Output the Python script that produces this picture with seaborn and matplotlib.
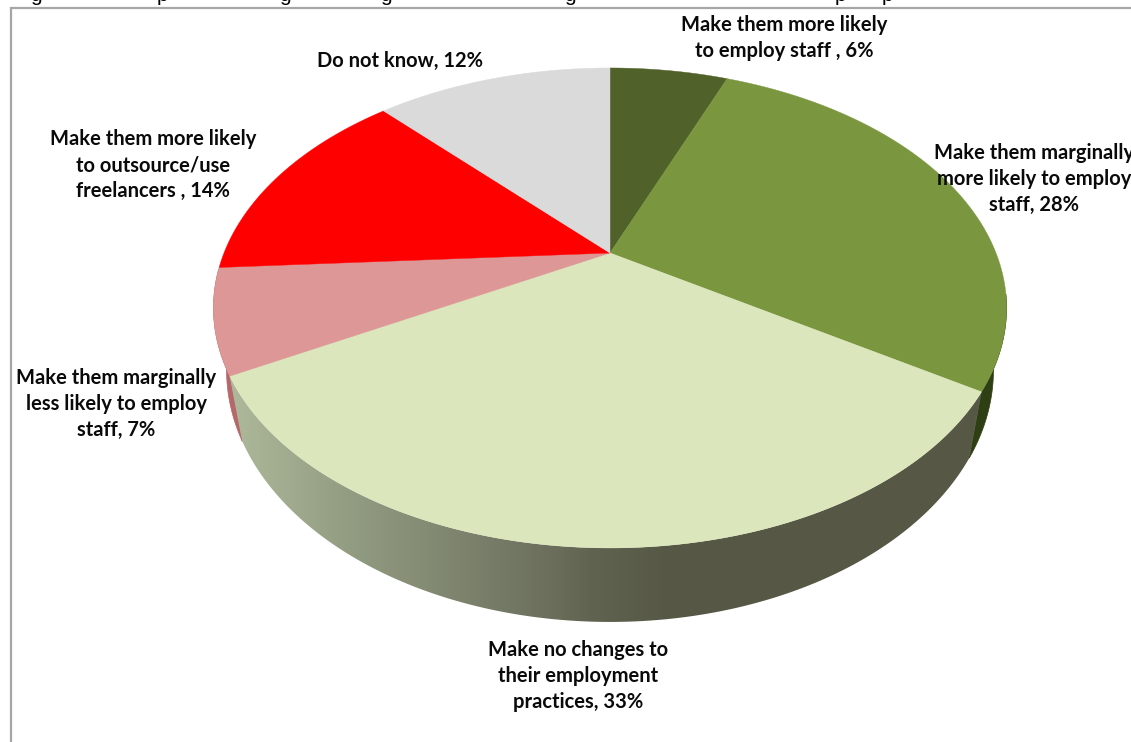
import numpy as np
import matplotlib
matplotlib.use("Agg")
import matplotlib.pyplot as plt
from matplotlib.colors import LinearSegmentedColormap
from matplotlib.patches import Polygon
import seaborn as sns

# Survey shares, clockwise from twelve o'clock
labels = [
    "Make them more likely\nto employ staff , 6%",
    "Make them marginally\nmore likely to employ\nstaff, 28%",
    "Make no changes to\ntheir employment\npractices, 33%",
    "Make them marginally\nless likely to employ\nstaff, 7%",
    "Make them more likely\nto outsource/use\nfreelancers , 14%",
    "Do not know, 12%",
]
shares = [6, 28, 33, 7, 14, 12]
top_colors = ["#50622a", "#7a973f", "#dce6bd", "#dc9796", "#ff0000", "#dadada"]
label_xy = [(784, 38), (1034, 179), (578, 676), (116, 404), (153, 165), (400, 61)]

# Letters of the heading line that hang into the top of the figure
heading_letters = ["g", "p", "g", "g", "g", "p", "p"]
heading_x = [36, 162, 285, 386, 570, 840, 887]

sns.set_theme(style="white")
plt.rcParams["font.family"] = ["Lato", "DejaVu Sans"]

fig, ax = plt.subplots(figsize=(11.31, 7.42), dpi=100)
ax.set_position([0, 0, 1, 1])
ax.axis("off")

# Perspective view of the disc
CX, CY = 610.0, 253.0
RX, RY, TILT = 386.0, 227.4, 0.229
RIM_MID_Y = 308.0


def rim(theta):
    """Upper rim position for clockwise angles measured from the top."""
    u, v = np.sin(theta), np.cos(theta)
    d = 1 + TILT * v
    return CX + RX * u / d, CY - RY * v / d


def lower_rim(theta):
    x, y = rim(theta)
    return CX + 0.967 * (x - CX), 370.0 + 1.05 * (y - RIM_MID_Y)


def wall_outline(a, b):
    t = np.linspace(a, b, 200)
    xt, yt = rim(t)
    xb, yb = lower_rim(t)
    return np.column_stack([np.r_[xt, xb[::-1]], np.r_[yt, yb[::-1]]])


edges = np.cumsum([0] + shares) / sum(shares) * 2 * np.pi

# Outer wall: the two narrow slivers at the sides
for a, b, col in [(np.radians(100), edges[2], "#2f3f14"),
                  (edges[3], np.radians(266), "#b4686a")]:
    ax.add_patch(Polygon(wall_outline(a, b), closed=True, color=col, lw=0.5))

# Outer wall: the front slice, shaded from left to right across x = 230..1000
WALL_LEFT, WALL_RIGHT = 230.0, 1000.0
stops_x = [230, 328, 425, 504, 557, 592, 670, 1000]
stops_c = ["#aeb99b", "#96a186", "#848c74", "#747965",
           "#6a6d5a", "#5f6350", "#565845", "#565845"]
shade = LinearSegmentedColormap.from_list(
    "front_wall",
    [((x - WALL_LEFT) / (WALL_RIGHT - WALL_LEFT), c) for x, c in zip(stops_x, stops_c)],
)
front = Polygon(wall_outline(edges[2], edges[3]), closed=True,
                transform=ax.transData, fc="none", ec="none")
ax.add_patch(front)
img = ax.imshow(np.linspace(0, 1, 1024)[None, :], cmap=shade, aspect="auto",
                extent=(WALL_LEFT, WALL_RIGHT, 742, 0), zorder=1.5)
img.set_clip_path(front)

# Top surface of the pie
palette = sns.color_palette(top_colors)
for a, b, col in zip(edges[:-1], edges[1:], palette):
    t = np.linspace(a, b, 200)
    x, y = rim(t)
    ax.fill(np.r_[CX, x], np.r_[CY, y], color=col, lw=0.3, zorder=2)

# Slice captions
for text, (x, y) in zip(labels, label_xy):
    ax.text(x, y, text, ha="center", va="center", fontsize=14.5,
            fontweight="bold", color="#0a0a0a", linespacing=1.37, zorder=3)

# Chart frame: only the top and left edges are in view
ax.plot([10.5, 10.5, 1131], [742, 8, 8], color="#a6a6a6", lw=1.6,
        solid_joinstyle="miter", zorder=3)

for ch, x in zip(heading_letters, heading_x):
    ax.text(x, 1.0, ch, ha="center", va="baseline", fontsize=15,
            family="Liberation Sans", color="black", clip_on=True, zorder=3)

ax.set_xlim(0, 1131)
ax.set_ylim(742, 0)

fig.savefig("out.png", dpi=100, facecolor="white")
